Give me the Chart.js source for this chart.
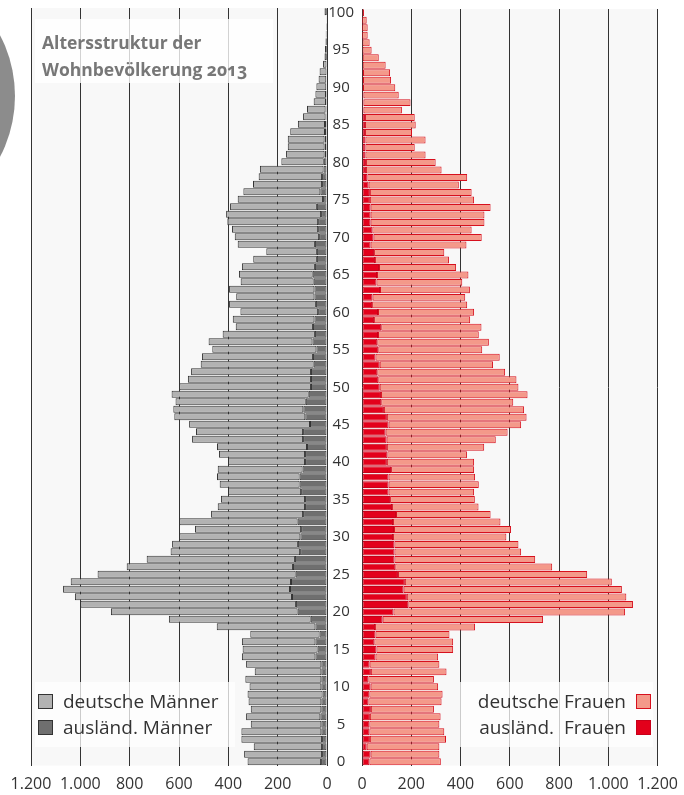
<!DOCTYPE html>
<html>
<head>
<meta charset="utf-8">
<script src="https://cdn.jsdelivr.net/npm/chart.js@4"></script>
<style>
  html, body { margin: 0; padding: 0; background: #fff; overflow: hidden; }
  body { width: 684px; height: 795px; position: relative; font-family: "Open Sans", sans-serif; }
  canvas { position: absolute; top: 0; }
  #men-wrap { position: absolute; left: 0; top: 0; width: 345px; height: 795px; }
  #women-wrap { position: absolute; left: 326px; top: 0; width: 361px; height: 795px; }
  .deco { position: absolute; left: -247px; top: -35px; width: 262px; height: 262px; border-radius: 50%; background: #8c8c8c; }
  .title { position: absolute; left: 35px; top: 19px; width: 238px; height: 64px; background: rgba(255,255,255,0.78);
    color: #777; font-weight: 700; font-size: 17.5px; line-height: 27px; padding: 10px 0 0 7px; box-sizing: border-box;
    font-feature-settings: "onum"; }
  .legend { position: absolute; top: 682px; height: 65px; background: rgba(255,255,255,0.75); color: #333; font-size: 19px; }
  .legend .item { position: absolute; white-space: nowrap; line-height: 26px; }
  .legend .sw { position: absolute; width: 13px; height: 13px; }
</style>
</head>
<body>
<div class="deco"></div>
<div id="men-wrap"><canvas id="men"></canvas></div>
<div id="women-wrap"><canvas id="women"></canvas></div>
<div class="title">Altersstruktur der<br>Wohnbevölkerung 2013</div>
<div class="legend" style="left:35px;width:200px;">
  <div class="sw" style="left:3px;top:12px;background:#b2b2b2;border:1px solid #333;"></div>
  <div class="item" style="left:28px;top:6px;">deutsche Männer</div>
  <div class="sw" style="left:3px;top:38px;background:#6f6f6f;border:1px solid #333;"></div>
  <div class="item" style="left:28px;top:32px;">ausländ. Männer</div>
</div>
<div class="legend" style="left:460px;width:193px;">
  <div class="item" style="right:27px;top:6px;">deutsche Frauen</div>
  <div class="sw" style="right:2px;top:12px;background:#f4998a;border:1px solid #d7101e;"></div>
  <div class="item" style="right:27px;top:32px;">ausländ.&nbsp; Frauen</div>
  <div class="sw" style="right:2px;top:38px;background:#e3001b;border:1px solid #c8001a;"></div>
</div>
<script>
// ages 0 .. 100
const ages = Array.from({ length: 101 }, (_, i) => String(i));

const menGerman = [298,316,277,327,324,286,301,286,295,304, 291,308,270,305,298,304,298,281,400,575,
  757,874,880,920,893,803,674,601,525,510, 491,430,480,373,354,341,296,324,335,344,
  312,349,365,450,434,490,531,527,528,556, 534,499,486,458,450,422,421,374,313,331,
  315,352,317,346,296,299,296,258,205,313, 342,349,368,385,352,346,312,280,257,258,
  172,156,149,149,141,110,91,75,50,43, 40,31,28,14,9,7,5,5,4,3, 9];

const menForeign = [24,20,20,20,23,23,27,23,23,18, 23,23,23,23,47,38,47,30,47,66,
  119,126,142,150,146,127,138,130,109,118, 108,105,119,97,89,89,105,111,111,99,
  89,89,81,97,97,69,88,96,86,74, 65,65,65,54,57,43,59,49,57,51,
  36,45,51,51,54,58,49,41,41,49, 32,36,36,24,41,16,27,20,20,14,
  13,10,10,10,8,8,6,6,4,4, 3,3,2,2,1,1,1,0,0,0, 1];

const womenGerman = [290,279,295,309,304,284,287,256,297,297, 274,266,307,283,254,311,320,300,406,651,
  940,912,891,886,840,768,637,571,514,503, 460,475,436,384,351,344,347,366,351,337,
  354,323,395,443,495,538,567,569,536,595, 563,561,519,460,504,422,453,409,407,390,
  390,386,376,365,348,371,313,300,285,389, 439,403,462,462,487,423,413,366,405,307,
  283,244,200,244,191,206,202,156,191,143, 131,114,110,93,65,37,29,22,22,18, 6];

const womenForeign = [30,35,19,32,30,30,32,36,26,30, 35,26,36,31,55,59,50,55,53,84,
  128,188,182,169,174,146,135,132,132,132, 126,130,126,138,122,114,108,108,108,118,
  101,103,101,100,96,108,101,89,78,77, 72,66,62,72,55,66,62,65,78,49,
  65,41,43,73,59,61,69,53,49,35, 47,42,35,35,35,32,32,27,22,16,
  16,14,14,14,12,12,12,6,6,6, 4,4,4,3,3,2,2,1,1,1, 2];

const xMax = 1200;
const xStep = 200;

const fmt = v => String(v).replace(/\B(?=(\d{3})+(?!\d))/g, '.');

const plotBg = {
  id: 'plotBg',
  beforeDraw(chart) {
    const { ctx, chartArea: a } = chart;
    ctx.save();
    ctx.fillStyle = '#f8f8f8';
    ctx.fillRect(a.left, a.top, a.right - a.left, a.bottom - a.top);
    ctx.restore();
  }
};

function xScale(reverse) {
  return {
    stacked: true,
    reverse: reverse,
    min: 0,
    max: xMax,
    afterFit: s => { s.height = 29.5; },
    grid: { color: '#333', lineWidth: 1, drawTicks: false },
    border: { display: false },
    ticks: {
      stepSize: xStep,
      padding: 9,
      color: '#333',
      font: { family: 'Open Sans', size: 16 },
      callback: v => fmt(v)
    }
  };
}

function bar(label, data, fill, line) {
  return {
    label, data,
    backgroundColor: fill,
    borderColor: line,
    borderWidth: 1,
    borderSkipped: false,
    barPercentage: 1,
    categoryPercentage: 0.93
  };
}

Chart.defaults.animation = false;

new Chart(document.getElementById('men'), {
  type: 'bar',
  data: {
    labels: ages,
    datasets: [
      bar('ausländ. Männer', menForeign, '#6f6f6f', '#333'),
      bar('deutsche Männer', menGerman, '#b2b2b2', '#333')
    ]
  },
  options: {
    indexAxis: 'y',
    responsive: true,
    maintainAspectRatio: false,
    layout: { padding: { top: 8, left: 31, right: 18, bottom: 0 } },
    plugins: { legend: { display: false }, tooltip: { enabled: false } },
    scales: {
      x: xScale(true),
      y: { stacked: true, reverse: true, display: false }
    }
  },
  plugins: [plotBg]
});

new Chart(document.getElementById('women'), {
  type: 'bar',
  data: {
    labels: ages,
    datasets: [
      bar('ausländ. Frauen', womenForeign, '#e3001b', '#c8001a'),
      bar('deutsche Frauen', womenGerman, '#f4998a', '#d7101e')
    ]
  },
  options: {
    indexAxis: 'y',
    responsive: true,
    maintainAspectRatio: false,
    layout: { padding: { top: 8, left: 0, right: 23, bottom: 0 } },
    plugins: { legend: { display: false }, tooltip: { enabled: false } },
    scales: {
      x: xScale(false),
      y: {
        stacked: true,
        reverse: true,
        afterFit: s => { s.width = 36; },
        grid: { display: false },
        border: { display: false },
        ticks: {
          autoSkip: false,
          padding: 0,
          crossAlign: 'center',
          color: '#333',
          font: { family: 'Open Sans', size: 15 },
          callback: (v, i) => (i % 5 === 0 ? ages[i] : '')
        }
      }
    }
  },
  plugins: [plotBg]
});
</script>
</body>
</html>
